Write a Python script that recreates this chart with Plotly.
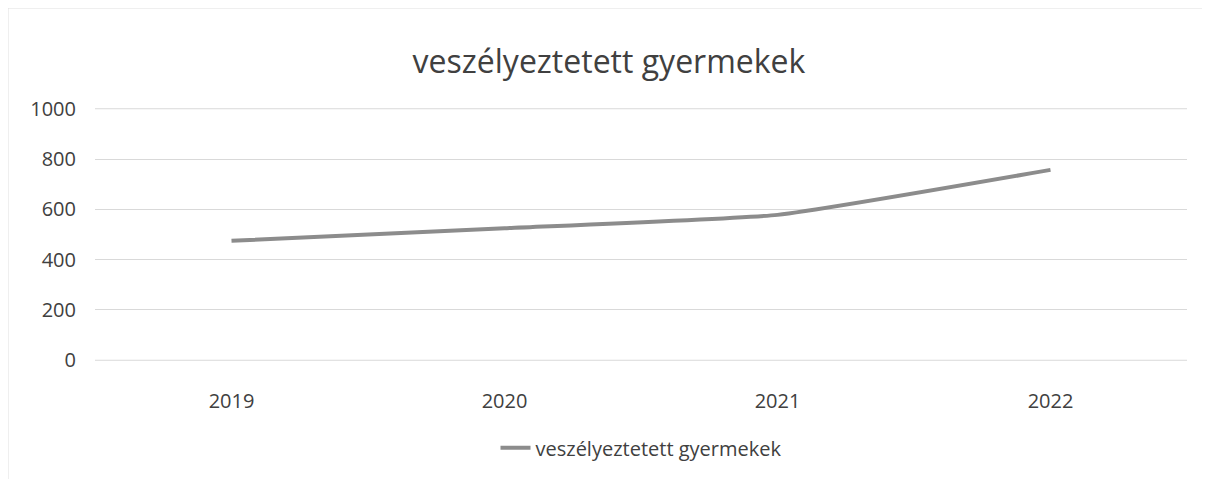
import plotly.graph_objects as go

years = ["2019", "2020", "2021", "2022"]
veszelyeztetett = [475, 525, 578, 757]
y_ticks = [0, 200, 400, 600, 800, 1000]
series_name = "veszélyeztetett gyermekek"

font_family = "Open Sans, Noto Sans, sans-serif"
text_color = "#404040"
grid_color = "#d9d9d9"

fig = go.Figure()

fig.add_trace(
    go.Scatter(
        x=years,
        y=veszelyeztetett,
        name=series_name,
        mode="lines",
        line={"color": "#8c8c8c", "width": 4, "shape": "spline", "smoothing": 0.4},
    )
)

# plotly skips gridlines on the plot edges, so draw the 0 and 1000 lines by hand
for edge in (y_ticks[0], y_ticks[-1]):
    fig.add_hline(y=edge, line={"color": grid_color, "width": 1}, layer="below")

fig.update_xaxes(
    type="category",
    range=[-0.5, 3.5],
    showgrid=False,
    showline=False,
    ticks="outside",
    ticklen=22,
    tickcolor="rgba(0,0,0,0)",
    tickfont={"size": 20, "color": text_color},
)
fig.update_yaxes(
    range=[-3, 1003],
    tickvals=y_ticks,
    gridcolor=grid_color,
    gridwidth=1,
    zeroline=False,
    showline=False,
    ticks="outside",
    ticklen=14,
    tickcolor="rgba(0,0,0,0)",
    tickfont={"size": 20, "color": text_color},
)

# page body has an 8px margin, so the figure is 8px smaller
fig.update_layout(
    width=1202,
    height=471,
    paper_bgcolor="white",
    plot_bgcolor="white",
    font={"family": font_family, "color": text_color},
    title={
        "text": series_name,
        "x": 0.5,
        "xanchor": "center",
        "y": 1 - 54 / 471,
        "yanchor": "middle",
        "font": {"size": 32, "color": "#404040"},
    },
    showlegend=True,
    legend={
        "orientation": "h",
        "x": 0.5,
        "xanchor": "center",
        "y": -0.343,
        "yanchor": "middle",
        "font": {"size": 20, "color": text_color},
    },
    margin={"l": 87, "r": 23, "t": 100, "b": 118},
)

fig.add_shape(
    type="rect",
    xref="paper",
    yref="paper",
    x0=-87 / 1092,
    x1=1 + 22 / 1092,
    y0=-125 / 253,
    y1=1 + 100 / 253,
    line={"color": "#e0e0e0", "width": 1},
)

fig.write_html("out.html")
